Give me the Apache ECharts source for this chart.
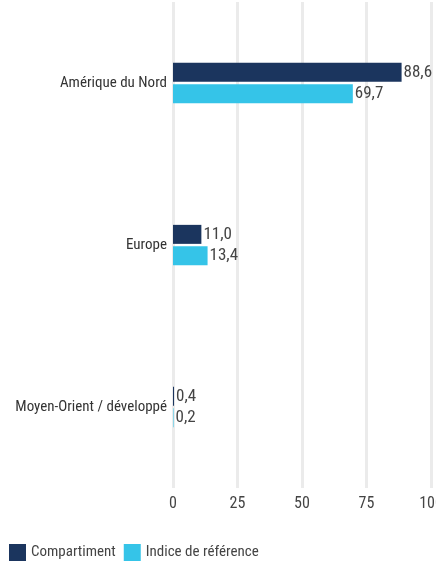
<!DOCTYPE html>
<html>
<head>
<meta charset="utf-8">
<script src="https://cdn.jsdelivr.net/npm/echarts@6/dist/echarts.min.js"></script>
<style>
  html, body { margin: 0; padding: 0; background: #fff; }
  #chart { width: 436px; height: 565px; }
</style>
</head>
<body>
<div id="chart"></div>
<script>
var categories = ['Amérique du Nord', 'Europe', 'Moyen-Orient / développé'];
var compartiment = [88.6, 11.0, 0.4];
var indice = [69.7, 13.4, 0.2];
var xTicks = [0, 25, 50, 75, 100];

var font = '"Liberation Sans Narrow", "Roboto Condensed", Roboto, sans-serif';

function fmt (p) {
  return p.value.toFixed(1).replace('.', ',');
}

var myChart = echarts.init(document.getElementById('chart'));
myChart.setOption({
  animation: false,
  backgroundColor: '#fff',
  textStyle: { fontFamily: font },
  legend: {
    left: 9,
    bottom: 4,
    padding: 0,
    itemWidth: 17,
    itemHeight: 17,
    itemGap: 8,
    icon: 'rect',
    textStyle: { fontFamily: font, fontSize: 15, color: '#444' },
    data: ['Compartiment', 'Indice de référence']
  },
  grid: { left: 173, right: 5, top: 2, bottom: 77, outerBoundsMode: 'none' },
  xAxis: {
    type: 'value',
    min: xTicks[0],
    max: xTicks[xTicks.length - 1],
    interval: 25,
    axisLine: { show: false },
    axisTick: { show: false },
    axisLabel: { fontFamily: font, fontSize: 16, color: '#444', margin: 8 },
    splitLine: { lineStyle: { color: '#ebebeb', width: 3 } }
  },
  yAxis: {
    type: 'category',
    inverse: true,
    data: categories,
    axisLine: { show: false },
    axisTick: { show: false },
    axisLabel: { fontFamily: font, fontSize: 15, color: '#333', margin: 6 }
  },
  series: [
    {
      name: 'Compartiment',
      type: 'bar',
      data: compartiment,
      barWidth: 19,
      barGap: '12%',
      itemStyle: { color: '#1b355e' },
      label: { show: true, position: 'right', distance: 2, formatter: fmt,
        fontFamily: font, fontSize: 17, color: '#444' }
    },
    {
      name: 'Indice de référence',
      type: 'bar',
      data: indice,
      barWidth: 19,
      itemStyle: { color: '#35c4e8' },
      label: { show: true, position: 'right', distance: 2, formatter: fmt,
        fontFamily: font, fontSize: 17, color: '#444' }
    }
  ]
});
</script>
</body>
</html>
